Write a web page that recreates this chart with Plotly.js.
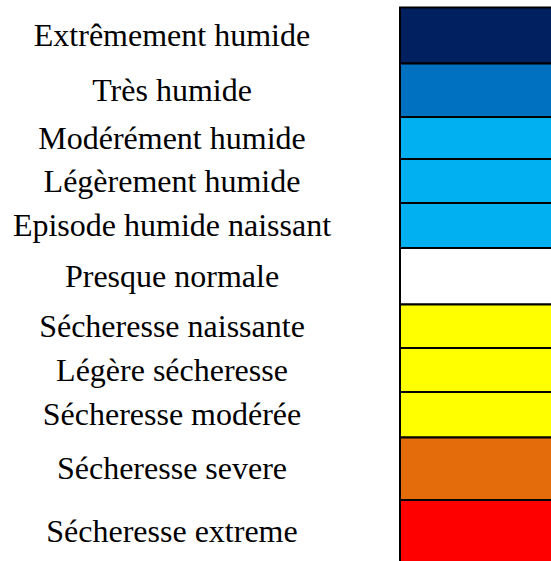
<!DOCTYPE html>
<html>
<head>
<meta charset="utf-8">
<script src="https://cdn.plot.ly/plotly-3.0.1.min.js"></script>
<style>html,body{margin:0;padding:0;background:#fff;}#chart{width:551px;height:561px;}</style>
</head>
<body>
<div id="chart"></div>
<script>
// Categories (top to bottom)
const categories = [
  "Extrêmement humide",
  "Très humide",
  "Modérément humide",
  "Légèrement humide",
  "Episode humide naissant",
  "Presque normale",
  "Sécheresse naissante",
  "Légère sécheresse",
  "Sécheresse modérée",
  "Sécheresse severe",
  "Sécheresse extreme"
];
// Colour of each class
const classColors = [
  "#002060", "#0070C0", "#00B0F0", "#00B0F0", "#00B0F0",
  "#FFFFFF", "#FFFF00", "#FFFF00", "#FFFF00", "#E46C0A", "#FF0000"
];
// Row heights of the table (in table units)
const rowHeights = [56, 53.5, 42, 44, 45, 56.5, 43.5, 44, 45.5, 62.5, 62];

const tableTop = 7.5;
const boxStart = 400, boxLength = 170, labelX = 172, labelShift = 2.5;

const centers = [];
let acc = tableTop;
for (const h of rowHeights) { centers.push(acc + h / 2); acc += h; }

const bars = {
  type: "bar",
  orientation: "h",
  y: centers,
  x: categories.map(() => boxLength),
  base: categories.map(() => boxStart),
  width: rowHeights,
  marker: { color: classColors, line: { color: "#000000", width: 2 } },
  hoverinfo: "skip",
  showlegend: false
};

const labels = {
  type: "scatter",
  mode: "text",
  x: categories.map(() => labelX),
  y: centers.map(c => c + labelShift),
  text: categories,
  textposition: "middle center",
  textfont: { family: "'Liberation Serif', 'Times New Roman', serif", size: 32, color: "#000000" },
  hoverinfo: "skip",
  showlegend: false
};

const layout = {
  width: 551, height: 561,
  margin: { l: 0, r: 0, t: 0, b: 0, pad: 0 },
  paper_bgcolor: "#ffffff", plot_bgcolor: "#ffffff",
  xaxis: { range: [0, 551], visible: false, fixedrange: true },
  yaxis: { range: [561, 0], visible: false, fixedrange: true },
  bargap: 0,
  showlegend: false
};

Plotly.newPlot("chart", [bars, labels], layout, { staticPlot: true, displayModeBar: false });
</script>
</body>
</html>
